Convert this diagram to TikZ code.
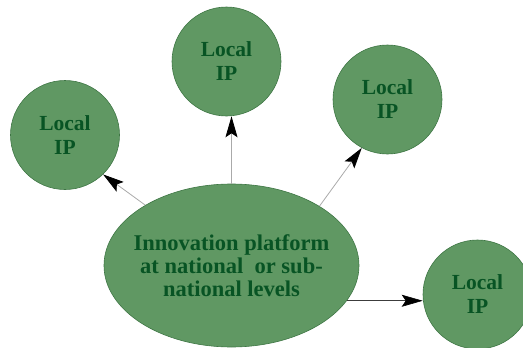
\documentclass[tikz,border=0pt]{standalone}
\usepackage{fontspec}
\setmainfont{Liberation Serif}
\usetikzlibrary{shapes.geometric,arrows.meta}
\definecolor{ipfill}{RGB}{96,152,99}
\definecolor{ipborder}{RGB}{62,118,68}
\definecolor{iptext}{RGB}{8,84,36}
\tikzset{
  ipcircle/.style={circle,draw=ipborder,line width=0.6pt,fill=ipfill,minimum size=109pt,inner sep=0pt,align=center,
    font=\fontsize{21.5}{24}\selectfont\bfseries,text=iptext},
  ipellipse/.style={ellipse,draw=ipborder,line width=0.6pt,fill=ipfill,minimum width=255pt,minimum height=163pt,inner sep=0pt},
  iplabel/.style={inner sep=0pt,align=center,font=\fontsize{22.5}{23}\selectfont\bfseries,text=iptext},
  link/.style={draw={rgb,255:red,170;green,170;blue,170},line width=0.8pt,-{Stealth[length=21pt,width=12pt,inset=4pt,color=black]}},
  darklink/.style={draw={rgb,255:red,60;green,60;blue,60},line width=0.6pt,-{Stealth[length=21pt,width=12pt,inset=4pt,color=black]}}
}
\begin{document}
\begin{tikzpicture}[x=1pt,y=-1pt]
\useasboundingbox (0,0) rectangle (523,348);
\begin{scope}
\clip (0,0) rectangle (523,348);
\node[ipellipse] (E) at (231.5,265.5) {};
\node[iplabel] (EL) at (E.center) {Innovation platform\\at national~ or sub-\\national levels};
\node[ipcircle] (C1) at (65,135) {Local\\IP};
\node[ipcircle] (C2) at (226.5,61.5) {Local\\IP};
\node[ipcircle] (C3) at (387.5,99.5) {Local\\IP};
\node[ipcircle] (C4) at (477.5,294.5) {Local\\IP};
\draw[link] (E.145) -- (C1.-46);
\draw[link] (E.90) -- (E.90 |- C2.south);
\draw[link] (E.34) -- (C3.-118);
\draw[darklink] (E.-17) -- (E.-17 -| C4.west);
\end{scope}
\end{tikzpicture}
\end{document}
